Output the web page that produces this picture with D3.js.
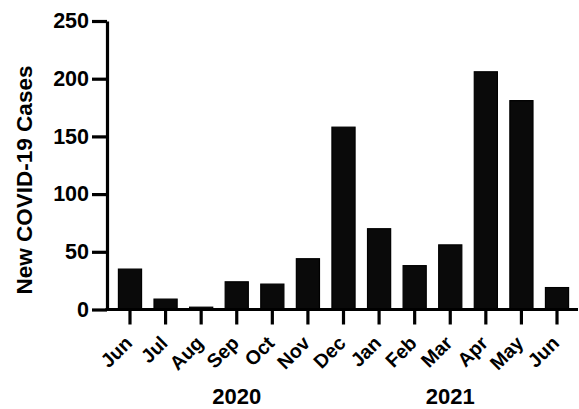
<!DOCTYPE html>
<html>
<head>
<meta charset="utf-8">
<script src="https://cdn.jsdelivr.net/npm/d3@7"></script>
<style>
  html, body { margin: 0; padding: 0; background: #fff; }
  svg { display: block; }
  text { font-family: "Liberation Sans", Arial, Helvetica, sans-serif; font-weight: bold; fill: #000; }
</style>
</head>
<body>
<svg id="chart" width="579" height="409"></svg>
<script>
const months = ["Jun", "Jul", "Aug", "Sep", "Oct", "Nov", "Dec", "Jan", "Feb", "Mar", "Apr", "May", "Jun"];
const monthKeys = ["2020-06", "2020-07", "2020-08", "2020-09", "2020-10", "2020-11", "2020-12",
                   "2021-01", "2021-02", "2021-03", "2021-04", "2021-05", "2021-06"];
const cases = [35, 9, 2, 24, 22, 44, 158, 70, 38, 56, 206, 181, 19];
const yTicks = [0, 50, 100, 150, 200, 250];
const years = ["2020", "2021"];
const yearAnchorMonth = ["2020-09", "2021-03"];
const yTitle = "New COVID-19 Cases";

const svg = d3.select("#chart");
const W = 579, H = 409;
const axisX = 107, baseY = 309.5, topY = 21;

const x = d3.scaleBand().domain(monthKeys).range([112.2, 574.8]).paddingInner(0.35).paddingOuter(0.175);
const y = d3.scaleLinear().domain([0, 250]).range([baseY, topY]);

// bars
svg.append("g").selectAll("rect").data(monthKeys).join("rect")
  .attr("x", d => x(d))
  .attr("width", x.bandwidth())
  .attr("y", (d, i) => y(cases[i]))
  .attr("height", (d, i) => baseY - y(cases[i]))
  .attr("fill", "#0a0a0a")
  .attr("stroke", "#000")
  .attr("stroke-width", 1.2);

// y axis
const yAxis = svg.append("g").attr("transform", `translate(${axisX},0)`)
  .call(d3.axisLeft(y).tickValues(yTicks).tickSize(15).tickPadding(3).tickSizeOuter(0));
yAxis.select(".domain").attr("stroke", "#000").attr("stroke-width", 3.2);
yAxis.selectAll(".tick line").attr("stroke", "#000").attr("stroke-width", 3.2);
yAxis.selectAll(".tick text").style("font-size", "21.5px").style("font-family", "Liberation Sans, Arial, sans-serif").style("font-weight", "bold").attr("fill", "#000");

// x axis
const xAxis = svg.append("g").attr("transform", `translate(0,${baseY})`)
  .call(d3.axisBottom(x).tickSize(15).tickFormat((d, i) => months[i]));
xAxis.select(".domain").remove();
xAxis.append("line").attr("x1", axisX - 1.6).attr("x2", W - 1).attr("y1", 0).attr("y2", 0)
  .attr("stroke", "#000").attr("stroke-width", 3.2);
xAxis.selectAll(".tick line").attr("stroke", "#000").attr("stroke-width", 3.2);
xAxis.selectAll(".tick text")
  .style("font-size", "19.5px").style("font-family", "Liberation Sans, Arial, sans-serif").style("font-weight", "bold")
  .attr("fill", "#000")
  .attr("text-anchor", "end")
  .attr("x", 0).attr("y", 0).attr("dy", "0.35em")
  .attr("transform", "translate(-1.5,30) rotate(-45)");

// year labels
svg.append("g").selectAll("text").data(years).join("text")
  .attr("x", (d, i) => x(yearAnchorMonth[i]) + x.bandwidth() / 2)
  .attr("y", 404)
  .attr("text-anchor", "middle")
  .style("font-size", "22px")
  .text(d => d);

// y title
svg.append("text")
  .attr("transform", `translate(32,180) rotate(-90)`)
  .attr("text-anchor", "middle")
  .style("font-size", "22.5px")
  .text(yTitle);
</script>
</body>
</html>
